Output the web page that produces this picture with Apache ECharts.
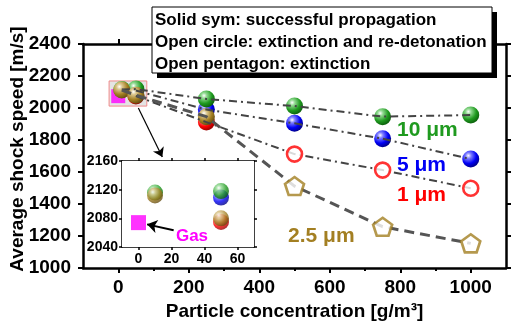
<!DOCTYPE html>
<html>
<head>
<meta charset="utf-8">
<script src="https://cdn.jsdelivr.net/npm/echarts@6/dist/echarts.min.js"></script>
<style>
html,body{margin:0;padding:0;background:#fff;}
#chart{width:511px;height:327px;}
</style>
</head>
<body>
<div id="chart"></div>
<script>
// ---- data ----
const x10 = [10, 50, 250, 500, 750, 1000];
const y10 = [2116, 2118, 2056, 2012, 1946, 1956];
const k10 = ['s', 's', 's', 's', 's', 's'];
const x5 = [50, 250, 500, 750, 1000];
const y5 = [2109, 1990, 1904, 1808, 1681];
const k5 = ['s', 's', 's', 's', 's'];
const x1 = [50, 250, 500, 750, 1000];
const y1 = [2075, 1912, 1712, 1612, 1498];
const k1 = ['s', 's', 'c', 'c', 'c'];
const x25 = [10, 50, 250, 500, 750, 1000];
const y25 = [2112, 2080, 1946, 1512, 1258, 1154];
const k25 = ['s', 's', 's', 'p', 'p', 'p'];
const gasX = [0];
const gasY = [2074];
const xMajor = [0, 200, 400, 600, 800, 1000];
const xMinor = [100, 300, 500, 700, 900];
const yTicks = [1000, 1200, 1400, 1600, 1800, 2000, 2200, 2400];
const insetXTicks = [0, 20, 40, 60];
const insetYTicks = [2040, 2080, 2120, 2160];
const zoomBox = [[-26, 2169], [81, 2012]];
const sizeLabels = ['10 μm', '5 μm', '1 μm', '2.5 μm'];
const legendLines = ['Solid sym: successful propagation', 'Open circle: extinction and re-detonation', 'Open pentagon: extinction'];

const FONT = "'Liberation Sans', Arial, Helvetica, sans-serif";
const GREEN = '#1f9a1f', BLUE = '#0000f5', RED = '#ff0000', BROWN = '#a37f22', MAG = '#ff00ff';
const PENT = 'path://M0,-10 L9.511,-3.09 L5.878,8.09 L-5.878,8.09 L-9.511,-3.09 Z';
const plain = v => String(v);

function ball(light, base, dark) {
  return {type: 'radial', x: 0.36, y: 0.3, r: 0.75, colorStops: [
    {offset: 0, color: '#ffffff'}, {offset: 0.22, color: light},
    {offset: 0.62, color: base}, {offset: 1, color: dark}]};
}
const balls = {
  g: ball('#8fd88f', GREEN, '#0a5a0a'),
  b: ball('#7f7fff', BLUE, '#00007a'),
  r: ball('#ff8f8f', RED, '#8a0000'),
  y: ball('#dcc78f', BROWN, '#5e470f')
};

function pts(xs, ys, ks, kind, xmax) {
  const out = [];
  xs.forEach((x, i) => { if (ks[i] === kind && x <= xmax) out.push([x, ys[i]]); });
  return out;
}
function allPts(xs, ys) { return xs.map((x, i) => [x, ys[i]]); }

const series = [];
// main grid: balls (red, blue, green, brown order)
[[x1, y1, k1, balls.r], [x5, y5, k5, balls.b], [x10, y10, k10, balls.g], [x25, y25, k25, balls.y]].forEach(s => {
  series.push({type: 'scatter', xAxisIndex: 0, yAxisIndex: 0, z: 3, symbol: 'circle', symbolSize: 17,
    itemStyle: {color: s[3], opacity: 1}, data: pts(s[0], s[1], s[2], 's', 2000), silent: true});
});
// gas in main with zoom box
series.push({type: 'scatter', xAxisIndex: 0, yAxisIndex: 0, z: 2, symbol: 'rect', symbolSize: 14,
  itemStyle: {color: MAG}, data: allPts(gasX, gasY), silent: true,
  markArea: {silent: true, itemStyle: {color: 'rgba(205,205,205,0.55)', borderColor: '#f08a8a', borderWidth: 1},
    data: [[{coord: zoomBox[0]}, {coord: zoomBox[1]}]]},
  markLine: {silent: true, symbol: ['none', 'arrow'], symbolSize: 9, label: {show: false},
    lineStyle: {color: '#000', width: 1.2, type: 'solid'},
    data: [[{coord: [57, 2000]}, {coord: [125, 1694]}]]}
});
// lines
const dashDot = [8, 4, 2, 4];
[[x10, y10], [x5, y5], [x1, y1]].forEach(s => {
  series.push({type: 'line', xAxisIndex: 0, yAxisIndex: 0, z: 4, showSymbol: false, silent: true,
    lineStyle: {color: '#444', width: 2, type: dashDot}, data: allPts(s[0], s[1])});
});
series.push({type: 'line', xAxisIndex: 0, yAxisIndex: 0, z: 4, showSymbol: false, silent: true,
  lineStyle: {color: '#555', width: 3, type: [10, 6]}, data: allPts(x25, y25)});
// open markers
series.push({type: 'scatter', xAxisIndex: 0, yAxisIndex: 0, z: 5, symbol: 'circle', symbolSize: 15,
  itemStyle: {color: '#fff', borderColor: RED, borderWidth: 2.6}, data: pts(x1, y1, k1, 'c', 2000), silent: true});
series.push({type: 'scatter', xAxisIndex: 0, yAxisIndex: 0, z: 5, symbol: PENT, symbolSize: [19, 18],
  itemStyle: {color: '#fff', borderColor: BROWN, borderWidth: 2.6}, data: pts(x25, y25, k25, 'p', 2000), silent: true});

// inset
[[x1, y1, k1, balls.r], [x5, y5, k5, balls.b], [x10, y10, k10, balls.g], [x25, y25, k25, balls.y]].forEach(s => {
  series.push({type: 'scatter', xAxisIndex: 3, yAxisIndex: 2, z: 6, symbol: 'circle', symbolSize: 16,
    itemStyle: {color: s[3]}, data: pts(s[0], s[1], s[2], 's', 60), silent: true});
});
series.push({type: 'scatter', xAxisIndex: 3, yAxisIndex: 2, z: 6, symbol: 'rect', symbolSize: 15,
  itemStyle: {color: MAG}, data: allPts(gasX, gasY), silent: true,
  markLine: {silent: true, symbol: ['none', 'arrow'], symbolSize: 10, label: {show: false},
    lineStyle: {color: '#000', width: 2, type: 'solid'},
    data: [[{coord: [21.3, 2063.4]}, {coord: [5.2, 2071.6]}]]}
});

const boldLbl = (size) => ({fontFamily: FONT, fontWeight: 'bold', fontSize: size, color: '#000'});
const axisLine = (w) => ({show: true, onZero: false, lineStyle: {color: '#000', width: w}});

const option = {
  animation: false,
  backgroundColor: '#fff',
  grid: [
    {left: 83, top: 44, width: 423, height: 224, containLabel: false},
    {left: 122, top: 161, width: 132, height: 86, show: true, backgroundColor: '#fff', borderColor: 'transparent', z: 5}
  ],
  xAxis: [
    {gridIndex: 0, type: 'value', min: -100, max: 1100, interval: 100, position: 'bottom',
      axisLine: axisLine(2.5),
      axisTick: {show: true, customValues: xMajor, length: 5, lineStyle: {width: 2, color: '#000'}},
      axisLabel: Object.assign({customValues: xMajor, margin: 10, formatter: plain}, boldLbl(19)),
      splitLine: {show: false},
      name: 'Particle concentration [g/m³]', nameLocation: 'middle', nameGap: 33,
      nameTextStyle: boldLbl(19)},
    {gridIndex: 0, type: 'value', min: -100, max: 1100, interval: 100, position: 'bottom',
      axisLine: {show: false},
      axisTick: {show: true, customValues: xMinor, length: 3, lineStyle: {width: 2, color: '#000'}},
      axisLabel: {show: false}, splitLine: {show: false}},
    {gridIndex: 0, type: 'value', min: -100, max: 1100, interval: 100, position: 'top',
      axisLine: axisLine(2.5),
      axisTick: {show: true, customValues: xMajor, length: 5, lineStyle: {width: 2, color: '#000'}},
      axisLabel: {show: false}, splitLine: {show: false}},
    {gridIndex: 1, type: 'value', min: -10, max: 70, interval: 10, position: 'bottom',
      axisLine: axisLine(1.5),
      axisTick: {show: true, customValues: insetXTicks, length: 3, lineStyle: {width: 1.5, color: '#000'}},
      axisLabel: Object.assign({customValues: insetXTicks, margin: 5, formatter: plain}, boldLbl(14)),
      splitLine: {show: false}},
    {gridIndex: 1, type: 'value', min: -10, max: 70, interval: 10, position: 'top',
      axisLine: axisLine(1.5),
      axisTick: {show: true, customValues: insetXTicks, length: 3, lineStyle: {width: 1.5, color: '#000'}},
      axisLabel: {show: false}, splitLine: {show: false}}
  ],
  yAxis: [
    {gridIndex: 0, type: 'value', min: 1000, max: 2400, interval: 200, position: 'left',
      axisLine: axisLine(2.5),
      axisTick: {show: true, length: 5, lineStyle: {width: 2, color: '#000'}},
      axisLabel: Object.assign({customValues: yTicks, margin: 12, formatter: plain}, boldLbl(19)),
      splitLine: {show: false}},
    {gridIndex: 0, type: 'value', min: 1000, max: 2400, interval: 200, position: 'right',
      axisLine: axisLine(2.5),
      axisTick: {show: true, length: 5, lineStyle: {width: 2, color: '#000'}},
      axisLabel: {show: false}, splitLine: {show: false}},
    {gridIndex: 1, type: 'value', min: 2040, max: 2160, interval: 40, position: 'left',
      axisLine: axisLine(1.5),
      axisTick: {show: true, length: 3, lineStyle: {width: 1.5, color: '#000'}},
      axisLabel: Object.assign({customValues: insetYTicks, margin: 4, formatter: plain}, boldLbl(14)),
      splitLine: {show: false}},
    {gridIndex: 1, type: 'value', min: 2040, max: 2160, interval: 40, position: 'right',
      axisLine: axisLine(1.5),
      axisTick: {show: true, length: 3, lineStyle: {width: 1.5, color: '#000'}},
      axisLabel: {show: false}, splitLine: {show: false}}
  ],
  series: series,
  graphic: [
    {type: 'text', x: 18, y: 149, rotation: Math.PI / 2, z: 10,
      style: {text: 'Average shock speed [m/s]', fill: '#000', font: 'bold 19px ' + FONT, textAlign: 'center', textVerticalAlign: 'middle'}},
    {type: 'rect', shape: {x: 157, y: 12, width: 340, height: 66}, style: {fill: '#000'}, z: 20},
    {type: 'rect', shape: {x: 152, y: 7, width: 340, height: 66}, style: {fill: '#fff', stroke: '#000', lineWidth: 1}, z: 21},
    {type: 'text', x: 155, y: 20, z: 22, style: {text: legendLines[0], fill: '#000', font: 'bold 17px ' + FONT, textVerticalAlign: 'middle'}},
    {type: 'text', x: 155, y: 42, z: 22, style: {text: legendLines[1], fill: '#000', font: 'bold 17px ' + FONT, textVerticalAlign: 'middle'}},
    {type: 'text', x: 155, y: 64, z: 22, style: {text: legendLines[2], fill: '#000', font: 'bold 17px ' + FONT, textVerticalAlign: 'middle'}},
    {type: 'text', x: 397, y: 130, z: 22, style: {text: sizeLabels[0], fill: GREEN, font: 'bold 21px ' + FONT, textVerticalAlign: 'middle'}},
    {type: 'text', x: 397, y: 165, z: 22, style: {text: sizeLabels[1], fill: BLUE, font: 'bold 21px ' + FONT, textVerticalAlign: 'middle'}},
    {type: 'text', x: 397, y: 195, z: 22, style: {text: sizeLabels[2], fill: RED, font: 'bold 21px ' + FONT, textVerticalAlign: 'middle'}},
    {type: 'text', x: 288, y: 236, z: 22, style: {text: sizeLabels[3], fill: BROWN, font: 'bold 21px ' + FONT, textVerticalAlign: 'middle'}},
    {type: 'text', x: 192, y: 236, z: 22, style: {text: 'Gas', fill: MAG, font: 'bold 17px ' + FONT, textAlign: 'center', textVerticalAlign: 'middle'}}
  ]
};
const chart = echarts.init(document.getElementById('chart'), null, {renderer: 'canvas'});
chart.setOption(option);
</script>
</body>
</html>
